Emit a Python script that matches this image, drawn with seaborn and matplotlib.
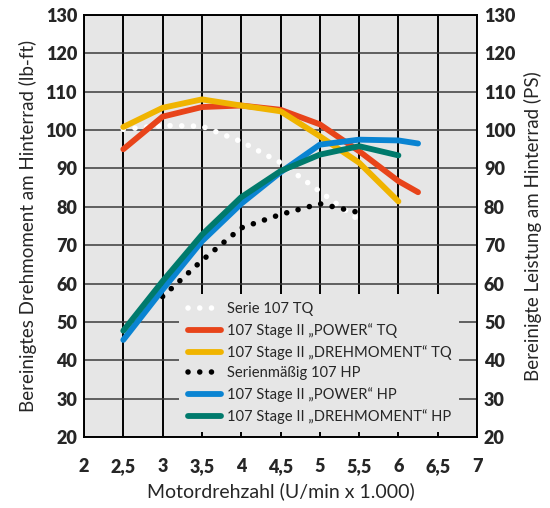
import numpy as np
import pandas as pd
import matplotlib
matplotlib.use("Agg")
import matplotlib.pyplot as plt
import seaborn as sns

# rpm (x 1000) per series
rpm_serie_tq = [2.5, 3.0, 3.5, 4.0, 4.5, 5.0, 5.5]
serie_tq = [100.2, 101.2, 101.0, 97.0, 91.5, 84.0, 76.5]

rpm_power_tq = [2.5, 3.0, 3.5, 4.0, 4.5, 5.0, 5.5, 6.0, 6.25]
power_tq = [95.0, 103.5, 106.0, 106.4, 105.3, 101.5, 94.5, 86.7, 83.8]

rpm_dreh_tq = [2.5, 3.0, 3.5, 4.0, 4.5, 5.0, 5.5, 6.0]
dreh_tq = [100.8, 105.8, 108.0, 106.4, 104.9, 98.4, 91.5, 81.4]

rpm_serie_hp = [3.0, 3.5, 4.0, 4.5, 5.0, 5.5]
serie_hp = [56.6, 66.0, 74.5, 78.0, 80.8, 78.5]

rpm_power_hp = [2.5, 3.0, 3.5, 4.0, 4.5, 5.0, 5.5, 6.0, 6.25]
power_hp = [45.3, 58.4, 71.0, 80.8, 89.0, 96.2, 97.5, 97.3, 96.5]

rpm_dreh_hp = [2.5, 3.0, 3.5, 4.0, 4.5, 5.0, 5.5, 6.0]
dreh_hp = [47.7, 60.6, 72.7, 82.5, 89.3, 93.6, 95.8, 93.4]

labels = ["Serie 107 TQ", "107 Stage II \u201ePOWER\u201c TQ",
          "107 Stage II \u201eDREHMOMENT\u201c TQ", "Serienm\u00e4\u00dfig 107 HP",
          "107 Stage II \u201ePOWER\u201c HP", "107 Stage II \u201eDREHMOMENT\u201c HP"]

x_ticks = [2, 2.5, 3, 3.5, 4, 4.5, 5, 5.5, 6, 6.5, 7]
x_ticklabels = ["2", "2,5", "3", "3,5", "4", "4,5", "5", "5,5", "6", "6,5", "7"]
y_ticks = list(range(20, 131, 10))

series = [
    (rpm_serie_tq, serie_tq, labels[0], "white", True),
    (rpm_power_tq, power_tq, labels[1], "#e8441a", False),
    (rpm_dreh_tq, dreh_tq, labels[2], "#f0b400", False),
    (rpm_serie_hp, serie_hp, labels[3], "black", True),
    (rpm_power_hp, power_hp, labels[4], "#0a84d2", False),
    (rpm_dreh_hp, dreh_hp, labels[5], "#007a6c", False),
]

sns.set_style("white")
plt.rcParams["font.family"] = ["Lato", "DejaVu Sans"]

fig = plt.figure(figsize=(5.5, 5.08), dpi=100)
ax = fig.add_axes([0.1527, 0.1398, 0.7146, 0.8307])
ax.set_facecolor("#e6e6e6")

for xs, ys, lab, col, dotted in series:
    df = pd.DataFrame({"rpm": xs, "val": ys})
    if dotted:
        sns.lineplot(data=df, x="rpm", y="val", ax=ax, color=col, lw=4.0,
                     linestyle=(0, (0.01, 2.1)), dash_capstyle="round",
                     label=lab, zorder=3)
    else:
        sns.lineplot(data=df, x="rpm", y="val", ax=ax, color=col, lw=4.2,
                     solid_capstyle="round", solid_joinstyle="round",
                     label=lab, zorder=4)

ax.set_xlim(2, 7)
ax.set_ylim(20, 130)
ax.set_xticks(x_ticks)
ax.set_xticklabels(x_ticklabels)
ax.set_yticks(y_ticks)
ax.tick_params(axis="x", direction="out", length=10, width=1.5, color="black",
               labelsize=13, pad=5)
ax.tick_params(axis="y", length=0, labelsize=13, pad=5)
for t in ax.get_xticklabels() + ax.get_yticklabels():
    t.set_fontweight("heavy")

ax.xaxis.grid(True, color="black", lw=1.4, zorder=1)
ax.yaxis.grid(True, color="#3a3a3a", lw=1.1, zorder=1)
ax.set_axisbelow(True)
for s in ax.spines.values():
    s.set_color("black")
    s.set_linewidth(1.4)

ax.set_xlabel("Motordrehzahl (U/min x 1.000)", fontsize=14, labelpad=5)
ax.set_ylabel("Bereinigtes Drehmoment am Hinterrad (lb-ft)", fontsize=13.5, labelpad=6)

ax2 = ax.twinx()
ax2.set_ylim(20, 130)
ax2.set_yticks(y_ticks)
ax2.tick_params(axis="y", length=0, labelsize=13, pad=5)
for t in ax2.get_yticklabels():
    t.set_fontweight("heavy")
ax2.set_ylabel("Bereinigte Leistung am Hinterrad (PS)", fontsize=13.5, labelpad=6)
for s in ax2.spines.values():
    s.set_visible(False)

leg = ax.legend(loc="lower left", bbox_to_anchor=(0.243, 0.012, 0.71, 0.31),
                mode="expand", frameon=True, fancybox=False, fontsize=10.6,
                handlelength=2.3, handletextpad=0.4, labelspacing=0.46,
                borderpad=0.55, borderaxespad=0)
leg.get_frame().set_facecolor("#e6e6e6")
leg.get_frame().set_edgecolor("none")
leg.get_frame().set_alpha(1)
leg.set_zorder(5)

fig.savefig("out.png", dpi=100)
